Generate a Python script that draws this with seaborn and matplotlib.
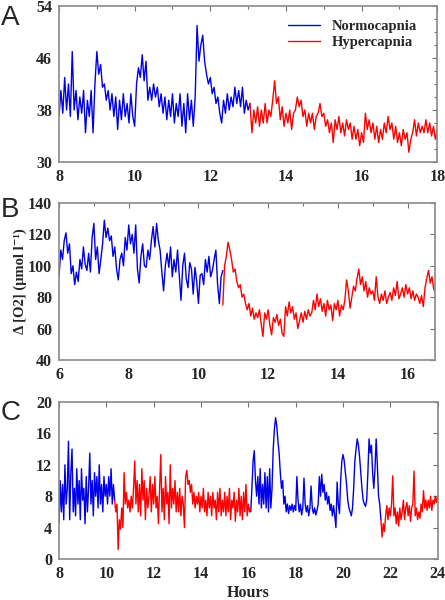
import numpy as np
import pandas as pd
import matplotlib
matplotlib.use("Agg")
import matplotlib.pyplot as plt
from matplotlib.ticker import MultipleLocator, FixedLocator
import seaborn as sns


# DATA (step 0.05 h)

a_normo = [37, 41, 37.5, 43, 38, 42, 37, 47, 38, 41, 36.5, 40, 37.5, 41, 34.5, 39.5, 37, 41, 34.5, 42,
           47, 43.5, 45, 41.5, 42, 39.5, 41, 38, 40.5, 37, 40, 35, 39.5, 36.5, 40.5, 37, 39, 36, 40.5, 37,
           35.5, 42, 44.5, 43, 46.5, 42.5, 45.5, 39.5, 41.5, 39.5, 42, 40, 41.5, 38.5, 40.5, 37.5, 40, 36.5, 39.5, 37,
           40.5, 36, 39, 37, 40.5, 35.5, 39, 34.5, 40.5, 36.5, 39.5, 35.5, 40, 51, 45.5, 48, 49.5, 45.5, 43.5, 42,
           43, 40.5, 41.5, 39, 40, 37.5, 36, 39.5, 37.5, 40.5, 38, 40, 38.5, 41.5, 39, 41, 38.5, 41.5, 37.5, 39.5,
           38, 39]
a_hyper = [39, 34.5, 38, 36, 38.5, 35.5, 38, 36, 39, 36, 38, 37, 39.5, 42.5, 39, 40, 36.5, 38.5, 35.5, 37.5,
           36, 38, 35, 37.5, 38, 40, 38.5, 39.5, 37, 38, 35.5, 37.5, 36, 37.5, 35, 37, 37.5, 39, 37, 37.5,
           35.5, 36.5, 34.5, 36, 33, 36.5, 35, 37, 34.5, 36, 34, 36.5, 35, 36, 33.5, 35.5, 33.5, 35, 32.5, 34.5,
           33, 37.5, 35, 36.5, 34.5, 36, 33.5, 35.5, 33, 35, 33.5, 36, 34.5, 37, 35, 36, 33.5, 35.5, 33, 34.5,
           32.5, 35, 33.5, 34.5, 31.5, 33.5, 34.5, 36.5, 34, 36, 34.5, 35.5, 34.5, 36.5, 34.5, 36, 34, 35.5, 33.5, 35]

b_normo = [93, 110, 104, 116, 121, 108, 114, 95, 100, 88, 96, 90, 104, 98, 112, 101, 97, 108, 96, 118,
           127, 104, 112, 95, 104, 114, 129, 118, 124, 116, 119, 106, 112, 98, 91, 104, 108, 100, 118, 110,
           126, 114, 120, 108, 126, 98, 89, 106, 114, 100, 99, 110, 104, 116, 125, 112, 127, 116, 110, 96,
           84, 100, 108, 99, 112, 93, 104, 96, 110, 94, 78, 100, 108, 92, 86, 102, 98, 82, 99, 90,
           76, 94, 95, 88, 104, 96, 106, 93, 97, 104, 110, 88, 76, 93, 97]
b_hyper = [75, 100, 106, 115, 110, 104, 96, 98, 90, 86, 88, 80, 82, 76, 72, 76, 68, 73, 66, 70,
           67, 72, 63, 55, 70, 66, 72, 62, 56, 67, 64, 69, 62, 66, 57, 55, 74, 68, 77, 70,
           74, 66, 70, 60, 65, 70, 64, 71, 66, 72, 68, 70, 78, 72, 82, 74, 79, 71, 76, 68,
           78, 72, 75, 65, 76, 72, 78, 68, 75, 72, 78, 91, 84, 73, 80, 87, 84, 92, 98, 88,
           93, 84, 90, 80, 86, 82, 84, 78, 93, 80, 76, 82, 78, 84, 76, 80, 83, 78, 86, 81,
           90, 79, 82, 86, 80, 88, 82, 86, 79, 84, 78, 82, 80, 76, 81, 74, 86, 92, 97, 89,
           93, 85, 83]

c_normo1 = [4.5, 10, 6, 9.5, 5, 12, 7, 9, 15, 5, 11, 14, 6, 9, 5.5, 11.5, 7, 10, 5, 11.5,
            7.5, 9, 4.5, 10.5, 6, 9, 13.5, 7, 10, 5.5, 11, 8, 10.5, 6.5, 12, 7, 9.5, 6, 10.5, 8,
            9.5, 7, 10.5, 8, 11.5, 7, 9.5, 7.5]
c_hyper1 = [7.5, 6, 7, 1.2, 5, 3.8, 6.5, 4, 11, 7, 8.5, 6.5, 7.5, 6, 8, 6.5, 9, 12.5, 7, 10,
            6, 9.5, 5.5, 11.5, 7.5, 10, 5, 9, 6.5, 8, 10.5, 6, 9.5, 7, 10.5, 6.5, 8, 4.5, 9, 13.3,
            6, 9, 5, 10.5, 7, 8.5, 4.5, 12, 6.5, 9, 7, 10, 6, 8.5, 6, 9, 5.5, 8, 7, 4,
            10.5, 11.3, 9.5, 10, 8.5, 9.5, 7, 8.5, 6.5, 8, 7, 8.5, 6, 8, 6.5, 9, 6, 7.5, 5.5, 8.5,
            6.5, 8, 5.5, 8.5, 6.5, 7.5, 5, 8.5, 6, 9, 5.5, 7.5, 6, 8.5, 5.5, 8, 6, 9, 5, 7.5,
            6.5, 8.5, 4.8, 7.5, 6, 9, 5.5, 8, 5, 8.5, 6, 9.5, 5.5, 7, 6, 6.5]
c_normo2 = [6, 9, 12.5, 13.8, 10, 8, 10.5, 7, 11.5, 6.5, 9.5, 7, 11, 6.5, 10.5, 6, 11.5, 6.5, 9, 14,
            16.5, 18, 17, 15, 13.5, 11, 9, 10, 7, 8, 6, 7, 5.8, 6.8, 6.2, 7, 6, 6.8, 6.2, 10.5,
            7.5, 6, 7, 5.6, 6.5, 10.3, 7, 6, 6.8, 5.5, 6.5, 9.3, 6.5, 5.8, 6.5, 5.6, 6.2, 7, 10.5, 8,
            10.8, 8.5, 9.5, 7.5, 8.5, 7, 8, 6.2, 7, 5.5, 6.8, 5.5, 4, 9.8, 7, 5.8, 10, 12.5, 13.3, 12.5,
            11, 9.5, 7.5, 6.5, 6, 5.5, 6.5, 9, 12.5, 14, 15.3, 14.5, 13, 11, 9, 7.5, 7, 6.7, 7.5, 11,
            15.3, 13.5, 14.5, 11, 9, 11.5, 15.3, 12, 8, 7, 5]
c_hyper2 = [5, 2.8, 4.5, 3.5, 5.5, 6.8, 5, 6.5, 5.5, 7, 10.6, 5.5, 6.5, 4.5, 6, 4.2, 6.5, 5, 6, 7.5,
            5, 6.5, 7.2, 5.5, 6.8, 4.8, 6.5, 7, 11.2, 5.5, 6.5, 5, 6, 5.2, 7, 6, 8.7, 6.5, 7.5, 6.2,
            7.5, 6.5, 8, 6.2, 7.5, 7, 8, 7.2, 8]

a_yticks = [30, 38, 46, 54]

CONDITIONS = ['Normocapnia', 'Hypercapnia']
COLORS = {'Normocapnia': '#0000e8', 'Hypercapnia': '#ff0000'}


def segment_frame(start, end, values, condition, seg):
    hours = np.linspace(start, end, len(values))
    return pd.DataFrame({'hour': hours, 'value': values,
                         'condition': condition, 'segment': seg})


df_a = pd.concat([segment_frame(8.0, 13.05, a_normo, 'Normocapnia', 0),
                  segment_frame(13.05, 18.0, a_hyper, 'Hypercapnia', 1)])
df_b = pd.concat([segment_frame(6.0, 10.7, b_normo, 'Normocapnia', 0),
                  segment_frame(10.7, 16.8, b_hyper, 'Hypercapnia', 1)])
df_c = pd.concat([segment_frame(8.0, 10.35, c_normo1, 'Normocapnia', 0),
                  segment_frame(10.35, 16.1, c_hyper1, 'Hypercapnia', 1),
                  segment_frame(16.1, 21.6, c_normo2, 'Normocapnia', 2),
                  segment_frame(21.6, 24.0, c_hyper2, 'Hypercapnia', 3)])


# FIGURE

sns.set_style("white")
plt.rcParams['font.family'] = ['Liberation Serif', 'DejaVu Serif']
plt.rcParams['font.weight'] = 'bold'

fig = plt.figure(figsize=(4.45, 6.0), dpi=100)
ax_a = fig.add_axes([0.1326, 0.73, 0.850, 0.26])
ax_b = fig.add_axes([0.1326, 0.40, 0.846, 0.2617])
ax_c = fig.add_axes([0.1326, 0.0683, 0.851, 0.2617])

panels = [
    (ax_a, df_a, (8, 18), (30, 54), 2, 1, 8, 2, True),
    (ax_b, df_b, (6, 16.8), (40, 140), 2, 1, 20, None, False),
    (ax_c, df_c, (8, 24), (0, 20), 2, None, 4, None, False),
]

for ax, df, xlim, ylim, xmaj, xmin, ymaj, ymin, show_legend in panels:
    sns.lineplot(data=df, x='hour', y='value', hue='condition', hue_order=CONDITIONS,
                 units='segment', estimator=None, palette=COLORS, lw=1.0,
                 legend=show_legend, ax=ax)
    ax.set_xlim(*xlim)
    ax.set_ylim(*ylim)
    ax.xaxis.set_major_locator(MultipleLocator(xmaj))
    ax.yaxis.set_major_locator(MultipleLocator(ymaj))
    if xmin:
        ax.xaxis.set_minor_locator(MultipleLocator(xmin))
    if ymin:
        ax.yaxis.set_minor_locator(MultipleLocator(ymin))
    ax.tick_params(which='both', direction='in', top=True, right=True,
                   color='#707070', labelsize=11.5, pad=5)
    ax.tick_params(which='major', length=3.5, width=0.8)
    ax.tick_params(which='minor', length=2.5, width=0.8)
    for sp in ax.spines.values():
        sp.set_color('#8a8a8a')
        sp.set_linewidth(1.2)
    ax.set_xlabel('')
    ax.set_ylabel('')

ax_a.yaxis.set_major_locator(FixedLocator(a_yticks))
for ax in (ax_a, ax_b, ax_c):
    for lab in ax.get_xticklabels() + ax.get_yticklabels():
        lab.set_fontweight('bold')

leg = ax_a.legend(loc='upper right', frameon=False, fontsize=10.5,
                  bbox_to_anchor=(0.97, 0.97), handlelength=2.2,
                  borderaxespad=0.2, labelspacing=0.2)
for t in leg.get_texts():
    t.set_fontweight('bold')
for line in leg.get_lines():
    line.set_linewidth(1.0)

ax_b.set_ylabel('Δ [O2] (μmol l⁻¹)', fontsize=10.5, fontweight='bold', labelpad=1)
ax_c.set_xlabel('Hours', fontsize=11.5, fontweight='bold', labelpad=2)

for letter, y in [('A', 0.992), ('B', 0.672), ('C', 0.334)]:
    fig.text(0.002, y, letter, fontsize=20, family=['Liberation Sans', 'DejaVu Sans'],
             fontweight='normal', va='top', ha='left')

fig.savefig('out.png', dpi=100)
